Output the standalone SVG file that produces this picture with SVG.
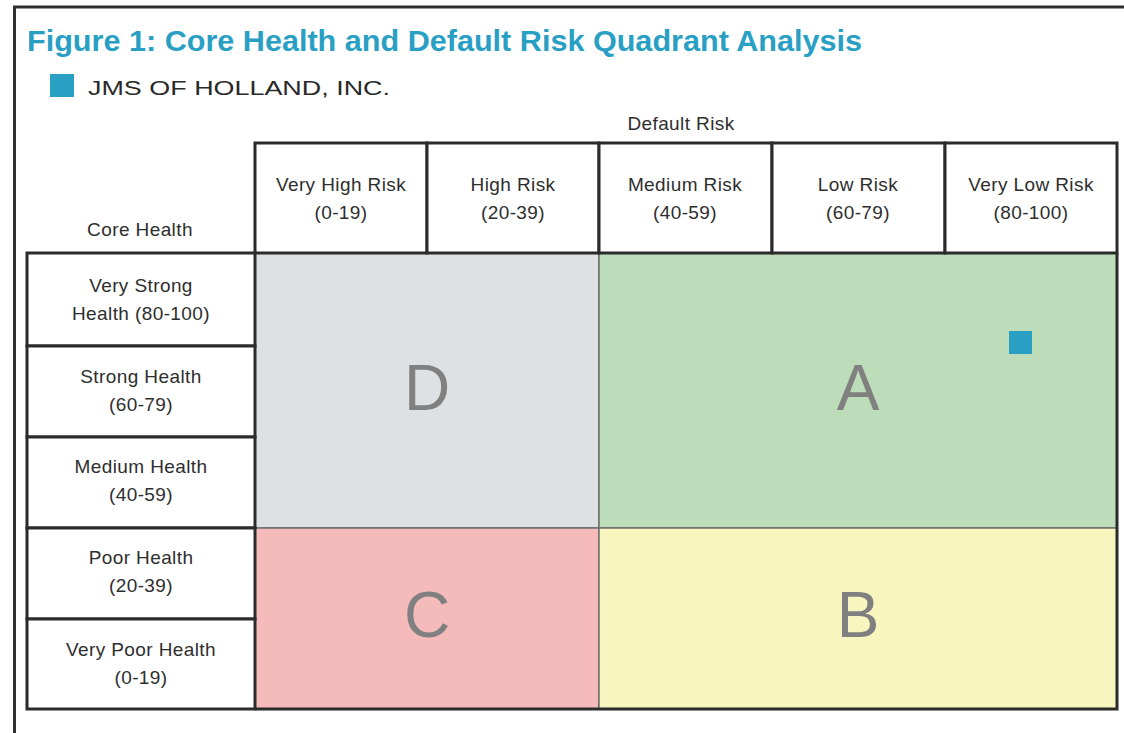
<svg xmlns="http://www.w3.org/2000/svg" width="1124" height="733" viewBox="0 0 1124 733">
<style>
.t{font-family:"Liberation Sans",Arial,sans-serif;fill:#2e2e2e;font-size:19px;text-anchor:middle;letter-spacing:0.4px}
.cell{fill:#ffffff;stroke:#2b2b2b;stroke-width:3}
.q{stroke:#6e6e6e;stroke-width:1.5}
.L{font-family:"Liberation Sans",Arial,sans-serif;fill:#808080;font-size:64px;text-anchor:middle}
</style>
<rect x="0" y="0" width="1124" height="733" fill="#ffffff"/>
<g id="frame">
<path d="M14.5 733 V7 H1124" fill="none" stroke="#2f2f2f" stroke-width="3"/>
</g>
<g id="title">
<text x="27" y="51" font-family="Liberation Sans,Arial,sans-serif" font-size="29" font-weight="bold" fill="#2a9fc4" textLength="835" lengthAdjust="spacingAndGlyphs">Figure 1: Core Health and Default Risk Quadrant Analysis</text>
</g>
<g id="legend">
<rect x="50" y="74" width="24" height="23" fill="#2a9fc4"/>
<text x="88" y="95" font-family="Liberation Sans,Arial,sans-serif" font-size="21" fill="#2a2a2a" textLength="302" lengthAdjust="spacingAndGlyphs">JMS OF HOLLAND, INC.</text>
</g>
<g id="axis-labels">
<text class="t" x="681" y="130" font-size="20">Default Risk</text>
<text class="t" x="140" y="236">Core Health</text>
</g>
<g id="quadrants">
<rect id="qD" x="255" y="253" width="344" height="275" fill="#dde1e4" class="q"/>
<rect id="qA" x="599" y="253" width="518" height="275" fill="#bddcba" class="q"/>
<rect id="qC" x="255" y="528" width="344" height="181" fill="#f5bbbb" class="q"/>
<rect id="qB" x="599" y="528" width="518" height="181" fill="#f9f5bf" class="q"/>
<path d="M255 709 H1117 V253" fill="none" stroke="#2b2b2b" stroke-width="3"/>
<text class="L" x="427" y="410">D</text>
<text class="L" x="858" y="410">A</text>
<text class="L" x="427" y="637">C</text>
<text class="L" x="858" y="637">B</text>
</g>
<g id="marker">
<rect x="1009" y="331" width="23" height="23" fill="#2a9fc4"/>
</g>
<g id="col-headers">
<g id="h1"><rect class="cell" x="255" y="143" width="172" height="110"/><text class="t" x="341" y="191">Very High Risk</text><text class="t" x="341" y="219">(0-19)</text></g>
<g id="h2"><rect class="cell" x="427" y="143" width="172" height="110"/><text class="t" x="513" y="191">High Risk</text><text class="t" x="513" y="219">(20-39)</text></g>
<g id="h3"><rect class="cell" x="599" y="143" width="173" height="110"/><text class="t" x="685" y="191">Medium Risk</text><text class="t" x="685" y="219">(40-59)</text></g>
<g id="h4"><rect class="cell" x="772" y="143" width="173" height="110"/><text class="t" x="858" y="191">Low Risk</text><text class="t" x="858" y="219">(60-79)</text></g>
<g id="h5"><rect class="cell" x="945" y="143" width="172" height="110"/><text class="t" x="1031" y="191">Very Low Risk</text><text class="t" x="1031" y="219">(80-100)</text></g>
</g>
<g id="row-headers">
<g id="r1"><rect class="cell" x="27" y="253" width="228" height="93"/><text class="t" x="141" y="292">Very Strong</text><text class="t" x="141" y="320">Health (80-100)</text></g>
<g id="r2"><rect class="cell" x="27" y="346" width="228" height="91"/><text class="t" x="141" y="383">Strong Health</text><text class="t" x="141" y="411">(60-79)</text></g>
<g id="r3"><rect class="cell" x="27" y="437" width="228" height="91"/><text class="t" x="141" y="473">Medium Health</text><text class="t" x="141" y="501">(40-59)</text></g>
<g id="r4"><rect class="cell" x="27" y="528" width="228" height="91"/><text class="t" x="141" y="564">Poor Health</text><text class="t" x="141" y="592">(20-39)</text></g>
<g id="r5"><rect class="cell" x="27" y="619" width="228" height="90"/><text class="t" x="141" y="656">Very Poor Health</text><text class="t" x="141" y="684">(0-19)</text></g>
</g>
</svg>
